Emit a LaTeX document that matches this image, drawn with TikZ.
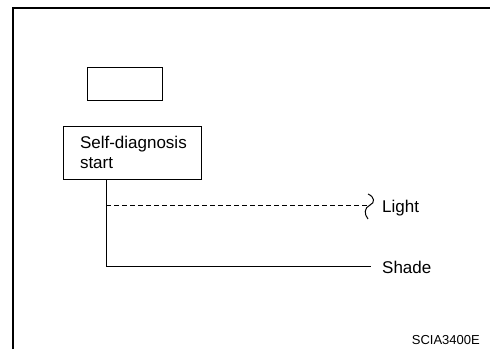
\documentclass[tikz,border=0pt]{standalone}
\usepackage{fontspec}
\setmainfont{Liberation Sans}
\usetikzlibrary{positioning}
\begin{document}
\begin{tikzpicture}[x=1pt,y=-1pt,
  box/.style={draw,line width=0.9pt,inner sep=0pt,outer sep=0pt},
  lbl/.style={font=\fontsize{17}{20}\selectfont,inner sep=0pt,anchor=base west},
  ln/.style={line width=0.8pt}]
 \useasboundingbox (0,0) rectangle (490,349);
 \draw[line width=2pt] (13,349)--(13,8)--(490,8);
 \node[box,minimum width=75pt,minimum height=33pt] (blank) at (124.5,83.5) {};
 \node[box,minimum width=138pt,minimum height=53pt,inner xsep=17pt,
   text width=104pt,align=left,font=\fontsize{17}{20}\selectfont] (start) at (132,152.5)
   {\mbox{Self-diagnosis}\\start};
 \coordinate (trunk) at (106,179);
 \coordinate (lend) at (370,205);
 \coordinate (send) at (371,266);
 \node[lbl] (light) at (382,212) {Light};
 \node[lbl] (shade) at (382,273) {Shade};
 \draw[ln] (trunk) -- (trunk |- send) -- (send);
 \draw[ln,dash pattern=on 5pt off 3pt] (trunk |- lend) -- (lend);
 \draw[line width=1pt] (368,194) .. controls (375,197) and (375,203) .. (lend)
   .. controls (364,208) and (364,214) .. (368,219);
 \node[font=\fontsize{13}{15}\selectfont,inner sep=0pt,anchor=base east] (code) at (480,344) {SCIA3400E};
\end{tikzpicture}
\end{document}
